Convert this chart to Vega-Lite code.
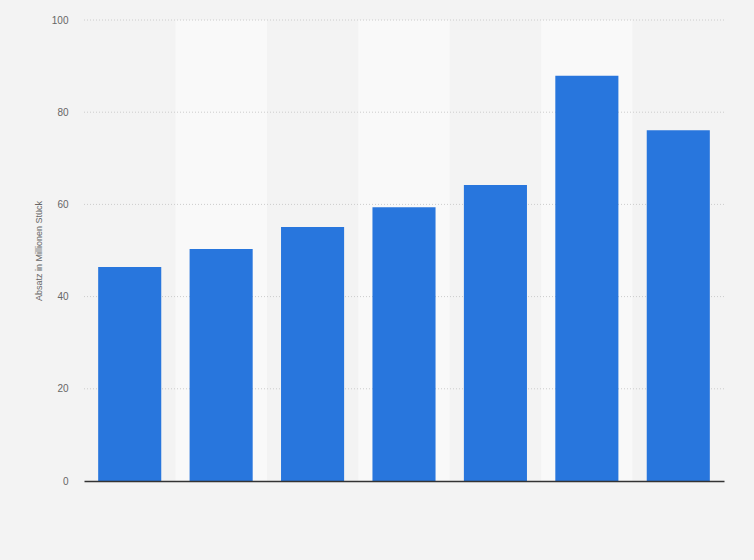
{
  "$schema": "https://vega.github.io/schema/vega-lite/v6.json",
  "autosize": "none",
  "width": 640,
  "height": 461,
  "padding": {"left": 84, "top": 20, "right": 30, "bottom": 79},
  "background": "#f3f3f3",
  "data": {
    "values": [
      {"kategorie": "1", "absatz": 46.4},
      {"kategorie": "2", "absatz": 50.3},
      {"kategorie": "3", "absatz": 55.1},
      {"kategorie": "4", "absatz": 59.4},
      {"kategorie": "5", "absatz": 64.2},
      {"kategorie": "6", "absatz": 87.9},
      {"kategorie": "7", "absatz": 76.1}
    ]
  },
  "layer": [
    {
      "mark": {"type": "rect"},
      "encoding": {
        "x": {
          "field": "kategorie",
          "type": "ordinal",
          "sort": null,
          "scale": {"paddingInner": 0, "paddingOuter": 0},
          "axis": {"title": null, "labels": false, "ticks": false, "domainColor": "#333333", "domainWidth": 1.5, "grid": false}
        },
        "y": {"datum": 0, "type": "quantitative"},
        "y2": {"datum": 100},
        "color": {
          "condition": {"test": "indexof(['2','4','6'], datum.kategorie) >= 0", "value": "#f9f9f9"},
          "value": "#f3f3f3"
        }
      }
    },
    {
      "data": {"values": [{"wert": 20}, {"wert": 40}, {"wert": 60}, {"wert": 80}, {"wert": 100}]},
      "mark": {"type": "rule", "color": "#cccccc", "strokeDash": [1, 2], "strokeWidth": 1},
      "encoding": {
        "y": {"field": "wert", "type": "quantitative"}
      }
    },
    {
      "mark": {"type": "bar", "color": "#2876dd", "width": {"band": 0.69}},
      "encoding": {
        "x": {"field": "kategorie", "type": "ordinal", "sort": null},
        "y": {
          "field": "absatz",
          "type": "quantitative",
          "scale": {"domain": [0, 100]},
          "axis": {
            "title": "Absatz in Millionen Stück",
            "titleFont": "Liberation Sans",
            "titleFontSize": 9,
            "titleFontWeight": "normal",
            "titleColor": "#666666",
            "titlePadding": 8,
            "values": [0, 20, 40, 60, 80, 100],
            "labelFont": "Liberation Sans",
            "labelFontSize": 10,
            "labelColor": "#666666",
            "labelPadding": 16,
            "ticks": false,
            "domain": false,
            "grid": false
          }
        }
      }
    }
  ],
  "config": {"view": {"stroke": null}}
}
